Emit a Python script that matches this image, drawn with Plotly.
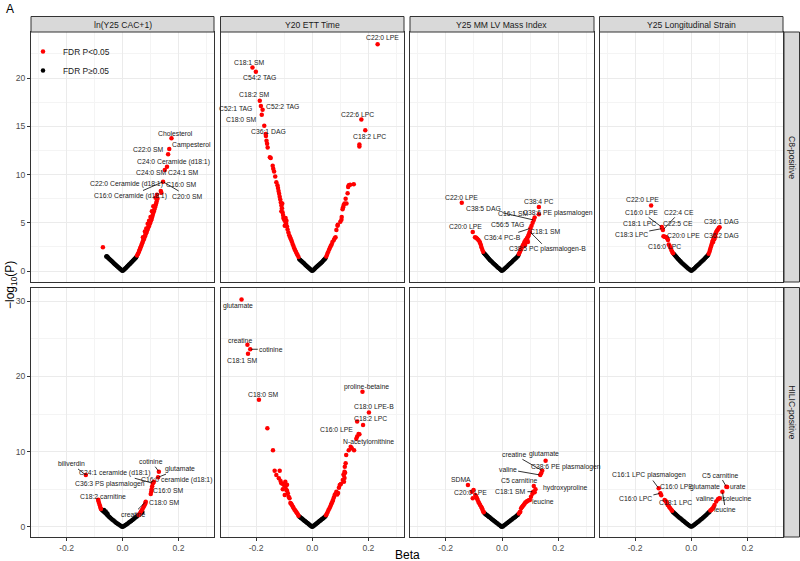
import plotly.graph_objects as go

# ---------------------------------------------------------------- data
col_titles = ["ln(Y25 CAC+1)", "Y20 ETT Time", "Y25 MM LV Mass Index", "Y25 Longitudinal Strain"]
row_titles = ["C8-positive", "HILIC-positive"]
x_ticks = [-0.2, 0.0, 0.2]
x_tick_text = ["-0.2", "0.0", "0.2"]
y_ticks_top = [0, 5, 10, 15, 20]
y_ticks_bottom = [0, 10, 20, 30]

# --- C8-positive / ln(Y25 CAC+1)
c8_cac_ns_beta = [-0.058, -0.056, -0.054, -0.052, -0.050, -0.047, -0.044, -0.041, -0.038, -0.035, -0.032, -0.029, -0.026, -0.023, -0.020, -0.017, -0.014, -0.011, -0.008, -0.005, -0.002,
                  0.001, 0.004, 0.007, 0.010, 0.013, 0.016, 0.019, 0.022, 0.025, 0.028, 0.031, 0.034, 0.037, 0.040, 0.043, 0.046, 0.049]
c8_cac_ns_logp = [1.50, 1.52, 1.45, 1.40, 1.33, 1.24, 1.16, 1.08, 1.00, 0.92, 0.84, 0.76, 0.68, 0.60, 0.52, 0.44, 0.36, 0.28, 0.20, 0.12, 0.05,
                  0.03, 0.10, 0.18, 0.26, 0.34, 0.43, 0.52, 0.61, 0.70, 0.79, 0.88, 0.97, 1.06, 1.15, 1.24, 1.33, 1.42]
c8_cac_sig_beta = [-0.070, 0.052, 0.055, 0.058, 0.060, 0.062, 0.064, 0.066, 0.068, 0.070, 0.072, 0.074, 0.076, 0.078, 0.080, 0.082, 0.084, 0.086,
                   0.088, 0.090, 0.092, 0.094, 0.096, 0.098, 0.100, 0.102, 0.104, 0.106, 0.108, 0.110, 0.112, 0.114, 0.116, 0.118, 0.120, 0.122,
                   0.125, 0.137, 0.139, 0.145, 0.151, 0.159, 0.163, 0.167, 0.175, 0.073, 0.080, 0.085, 0.090, 0.095, 0.100, 0.105, 0.110, 0.118, 0.123]
c8_cac_sig_logp = [2.45, 1.60, 1.75, 1.95, 2.10, 2.25, 2.40, 2.55, 2.70, 2.85, 3.00, 3.15, 3.30, 3.45, 3.60, 3.75, 3.90, 4.05,
                   4.20, 4.35, 4.50, 4.65, 4.80, 4.95, 5.10, 5.25, 5.40, 5.60, 5.80, 6.00, 6.20, 6.40, 6.60, 6.80, 7.00, 7.20,
                   7.50, 8.30, 8.10, 9.25, 10.47, 10.80, 12.09, 12.64, 13.75, 3.50, 4.10, 4.40, 4.90, 5.20, 5.60, 6.20, 6.70, 7.60, 7.90]

# --- C8-positive / Y20 ETT Time
c8_ett_ns_beta = [-0.046, -0.043, -0.040, -0.037, -0.034, -0.031, -0.028, -0.025, -0.022, -0.019, -0.016, -0.013, -0.010, -0.007, -0.004, -0.001,
                  0.002, 0.005, 0.008, 0.011, 0.014, 0.017, 0.020, 0.023, 0.026, 0.029, 0.032, 0.035, 0.038, 0.041, 0.044, 0.047]
c8_ett_ns_logp = [1.22, 1.14, 1.06, 0.98, 0.90, 0.82, 0.74, 0.66, 0.58, 0.50, 0.42, 0.34, 0.26, 0.18, 0.10, 0.03,
                  0.06, 0.14, 0.22, 0.30, 0.38, 0.46, 0.54, 0.62, 0.70, 0.78, 0.86, 0.94, 1.04, 1.13, 1.22, 1.32]
c8_ett_sig_beta = [-0.049, -0.052, -0.055, -0.058, -0.061, -0.064, -0.067, -0.070, -0.073, -0.076, -0.079, -0.082, -0.085, -0.088, -0.090,
                   -0.093, -0.096, -0.100, -0.103, -0.104, -0.106, -0.108, -0.110, -0.112, -0.114, -0.116, -0.118, -0.120, -0.122, -0.124,
                   -0.128, -0.132, -0.136, -0.139, -0.141, -0.148, -0.151, -0.159, -0.161, -0.163, -0.165, -0.166, -0.171, -0.180, -0.177,
                   -0.183, -0.187, -0.201, -0.213, -0.095, -0.092, -0.098, -0.110, -0.107,
                   0.050, 0.053, 0.056, 0.060, 0.063, 0.066, 0.069, 0.072, 0.077, 0.080, 0.083, 0.086, 0.090, 0.091, 0.100, 0.104, 0.105,
                   0.108, 0.110, 0.112, 0.115, 0.119, 0.122, 0.126, 0.128, 0.130, 0.135, 0.148, 0.168, 0.168, 0.175, 0.189, 0.233]
c8_ett_sig_logp = [1.45, 1.62, 1.80, 1.98, 2.16, 2.36, 2.58, 2.80, 3.05, 3.30, 3.50, 3.70, 4.00, 4.30, 4.60,
                   4.90, 5.10, 5.30, 5.50, 5.80, 6.10, 6.50, 6.80, 7.10, 7.40, 7.70, 8.00, 8.30, 8.60, 8.90,
                   9.20, 9.80, 10.30, 10.60, 10.90, 11.70, 11.80, 12.80, 13.20, 13.50, 14.00, 14.20, 15.06, 16.20, 16.70,
                   17.10, 17.65, 20.65, 21.10, 5.50, 5.20, 4.70, 6.20, 7.00,
                   1.50, 1.70, 1.95, 2.20, 2.40, 2.60, 2.75, 3.00, 3.20, 3.40, 3.50, 4.25, 4.70, 4.80, 5.10, 5.30, 5.60,
                   6.40, 6.60, 6.85, 7.00, 7.50, 7.00, 8.05, 8.70, 8.90, 8.95, 9.00, 12.90, 13.10, 15.70, 14.60, 23.50]

# --- C8-positive / Y25 MM LV Mass Index
c8_lv_ns_beta = [-0.064, -0.061, -0.058, -0.055, -0.052, -0.049, -0.046, -0.043, -0.040, -0.036, -0.032, -0.028, -0.024, -0.020, -0.016, -0.012, -0.008, -0.004, -0.001,
                 0.003, 0.007, 0.011, 0.015, 0.019, 0.023, 0.027, 0.031, 0.035, 0.039, 0.043, 0.047, 0.051, 0.055, 0.058]
c8_lv_ns_logp = [1.85, 1.75, 1.65, 1.55, 1.45, 1.35, 1.25, 1.15, 1.06, 0.95, 0.84, 0.73, 0.62, 0.51, 0.40, 0.30, 0.20, 0.10, 0.03,
                 0.08, 0.18, 0.29, 0.39, 0.50, 0.61, 0.72, 0.83, 0.94, 1.05, 1.16, 1.27, 1.38, 1.50, 1.60]
c8_lv_sig_beta = [-0.067, -0.070, -0.073, -0.075, -0.078, -0.080, -0.084, -0.088, -0.092, -0.096, -0.104, -0.143,
                  0.060, 0.063, 0.066, 0.069, 0.072, 0.075, 0.078, 0.080, 0.083, 0.086, 0.088, 0.090, 0.093, 0.095, 0.097, 0.099,
                  0.101, 0.105, 0.109, 0.113, 0.116, 0.131, 0.131, 0.085, 0.090, 0.092, 0.078, 0.082]
c8_lv_sig_logp = [2.00, 2.20, 2.45, 2.70, 2.90, 3.05, 3.20, 3.35, 3.45, 3.50, 4.05, 7.08,
                  1.75, 1.95, 2.15, 2.35, 2.55, 2.70, 2.85, 3.00, 3.15, 3.25, 3.35, 3.45, 3.60, 3.75, 3.90, 4.07,
                  4.42, 4.70, 5.00, 5.28, 5.55, 5.87, 6.63, 3.00, 3.20, 3.00, 2.60, 2.70]

# --- C8-positive / Y25 Longitudinal Strain
c8_ls_ns_beta = [-0.062, -0.059, -0.056, -0.053, -0.050, -0.047, -0.044, -0.041, -0.038, -0.035, -0.031, -0.027, -0.023, -0.019, -0.015, -0.011, -0.007, -0.003,
                 0.001, 0.005, 0.009, 0.013, 0.017, 0.021, 0.025, 0.029, 0.033, 0.037, 0.041, 0.045, 0.049, 0.053, 0.057, 0.060]
c8_ls_ns_logp = [1.75, 1.65, 1.55, 1.45, 1.35, 1.25, 1.16, 1.07, 0.98, 0.89, 0.78, 0.68, 0.57, 0.47, 0.37, 0.27, 0.17, 0.07,
                 0.03, 0.12, 0.22, 0.32, 0.43, 0.54, 0.65, 0.76, 0.87, 0.98, 1.09, 1.20, 1.32, 1.44, 1.56, 1.66]
c8_ls_sig_beta = [-0.065, -0.068, -0.071, -0.074, -0.077, -0.080, -0.083, -0.086, -0.089, -0.092, -0.095, -0.099, -0.101, -0.103, -0.105, -0.143,
                  0.062, 0.065, 0.067, 0.069, 0.071, 0.073, 0.075, 0.077, 0.079, 0.081, 0.083, 0.085, 0.087, 0.089, 0.092, 0.095, 0.098, 0.101,
                  0.078, 0.082, 0.086]
c8_ls_sig_logp = [1.85, 2.00, 2.18, 2.40, 2.60, 2.75, 3.20, 3.40, 3.50, 3.52, 3.55, 3.60, 4.25, 4.40, 4.55, 6.80,
                  1.80, 2.00, 2.20, 2.40, 2.60, 2.80, 3.00, 3.15, 3.30, 3.45, 3.60, 3.75, 3.90, 4.05, 4.20, 4.30, 4.45, 4.53,
                  3.00, 3.30, 3.55]

# --- HILIC-positive / ln(Y25 CAC+1)
hi_cac_ns_beta = [-0.074, -0.071, -0.068, -0.065, -0.062, -0.059, -0.056, -0.053, -0.050, -0.047, -0.044, -0.040, -0.036, -0.032, -0.028, -0.024, -0.020, -0.016, -0.012, -0.008, -0.004, -0.001,
                  -0.066, -0.060, -0.054,
                  0.003, 0.007, 0.011, 0.015, 0.019, 0.023, 0.027, 0.031, 0.035, 0.039, 0.043, 0.047, 0.051, 0.055, 0.059, 0.063, 0.067, 0.071]
hi_cac_ns_logp = [2.30, 2.20, 2.10, 2.00, 1.90, 1.78, 1.66, 1.55, 1.44, 1.33, 1.22, 1.10, 0.97, 0.85, 0.73, 0.61, 0.50, 0.39, 0.29, 0.19, 0.09, 0.02,
                  2.25, 2.05, 1.80,
                  0.07, 0.16, 0.26, 0.36, 0.47, 0.58, 0.69, 0.80, 0.92, 1.04, 1.16, 1.28, 1.40, 1.52, 1.64, 1.76, 1.88, 2.00]
hi_cac_sig_beta = [-0.077, -0.079, -0.081, -0.084, -0.086, -0.087, -0.131,
                   0.058, 0.062, 0.066, 0.070, 0.074, 0.077, 0.080, 0.082, 0.083, 0.101, 0.103, 0.104, 0.106, 0.109, 0.112, 0.127, 0.130]
hi_cac_sig_logp = [2.40, 2.60, 2.90, 3.20, 3.45, 3.60, 6.90,
                   1.60, 1.80, 2.05, 2.30, 2.55, 2.80, 3.00, 3.20, 3.36, 4.38, 4.70, 5.00, 5.40, 5.80, 6.00, 6.60, 7.35]

# --- HILIC-positive / Y20 ETT Time
hi_ett_ns_beta = [-0.046, -0.043, -0.040, -0.037, -0.034, -0.031, -0.028, -0.025, -0.022, -0.019, -0.016, -0.013, -0.010, -0.007, -0.004, -0.001,
                  0.002, 0.005, 0.008, 0.011, 0.014, 0.017, 0.020, 0.023, 0.026, 0.029, 0.032, 0.035, 0.038, 0.041, 0.044, 0.047]
hi_ett_ns_logp = [1.38, 1.29, 1.20, 1.11, 1.02, 0.93, 0.84, 0.75, 0.66, 0.57, 0.48, 0.39, 0.30, 0.21, 0.12, 0.03,
                  0.06, 0.15, 0.24, 0.33, 0.42, 0.51, 0.60, 0.69, 0.78, 0.87, 0.96, 1.05, 1.14, 1.23, 1.32, 1.42]
hi_ett_sig_beta = [-0.049, -0.051, -0.054, -0.057, -0.060, -0.063, -0.066, -0.069, -0.072, -0.075, -0.078, -0.081, -0.084, -0.087, -0.090,
                   -0.092, -0.095, -0.098, -0.100, -0.104, -0.110, -0.113, -0.119, -0.116, -0.128, -0.134, -0.140, -0.160, -0.190,
                   -0.229, -0.221, -0.231, -0.252, -0.090, -0.096, -0.105,
                   0.049, 0.052, 0.055, 0.058, 0.061, 0.064, 0.067, 0.069, 0.072, 0.074, 0.077, 0.080, 0.083, 0.086, 0.089, 0.092,
                   0.095, 0.098, 0.102, 0.109, 0.112, 0.115, 0.117, 0.119, 0.116, 0.121, 0.130, 0.137, 0.141, 0.149, 0.157, 0.160,
                   0.165, 0.168, 0.160, 0.181, 0.202, 0.179, 0.112, 0.115, 0.113]
hi_ett_sig_logp = [1.50, 1.65, 1.82, 2.00, 2.15, 2.30, 2.50, 2.70, 2.90, 3.10, 3.20, 3.80, 4.00, 4.47, 4.80,
                   4.90, 5.35, 4.25, 5.50, 5.70, 5.80, 6.10, 6.47, 7.48, 6.90, 7.48, 10.20, 13.10, 16.90,
                   23.00, 23.60, 24.20, 30.20, 5.60, 6.00, 5.00,
                   1.55, 1.75, 2.00, 2.25, 2.45, 2.70, 2.95, 3.15, 3.40, 3.59, 3.90, 4.25, 4.40, 4.69, 4.30, 4.50,
                   5.20, 5.58, 5.70, 6.24, 6.90, 7.35, 7.20, 8.46, 8.00, 9.56, 10.20, 10.66, 10.45, 10.20, 11.70, 12.00,
                   12.35, 12.30, 14.00, 13.55, 15.20, 17.97, 7.00, 6.50, 6.00]

# --- HILIC-positive / Y25 MM LV Mass Index
hi_lv_ns_beta = [-0.062, -0.059, -0.056, -0.053, -0.050, -0.047, -0.044, -0.040, -0.036, -0.032, -0.028, -0.024, -0.020, -0.016, -0.012, -0.008, -0.004, -0.001,
                 0.003, 0.007, 0.011, 0.015, 0.019, 0.023, 0.027, 0.031, 0.035, 0.039, 0.043, 0.047, 0.051, 0.055, 0.057]
hi_lv_ns_logp = [1.82, 1.73, 1.64, 1.55, 1.46, 1.37, 1.28, 1.16, 1.04, 0.92, 0.80, 0.69, 0.57, 0.45, 0.34, 0.22, 0.11, 0.03,
                 0.08, 0.19, 0.31, 0.42, 0.54, 0.65, 0.77, 0.88, 1.00, 1.11, 1.23, 1.34, 1.46, 1.58, 1.65]
hi_lv_sig_beta = [-0.065, -0.066, -0.069, -0.071, -0.074, -0.078, -0.081, -0.084, -0.087, -0.089, -0.092, -0.095, -0.101, -0.104, -0.107, -0.121,
                  0.060, 0.063, 0.065, 0.068, 0.071, 0.074, 0.077, 0.080, 0.083, 0.087, 0.090, 0.095, 0.099, 0.103, 0.108, 0.111,
                  0.116, 0.119, 0.113, 0.136, 0.139, 0.143, 0.155]
hi_lv_sig_logp = [1.95, 2.03, 2.25, 2.48, 2.70, 2.92, 3.15, 3.36, 3.60, 3.80, 4.05, 4.25, 4.90, 3.80, 4.69, 5.58,
                  1.80, 1.95, 2.03, 2.48, 2.65, 2.80, 2.92, 3.10, 3.25, 3.36, 3.45, 3.55, 3.58, 4.00, 4.40, 4.69,
                  4.60, 5.00, 5.44, 6.90, 7.13, 7.48, 8.80]

# --- HILIC-positive / Y25 Longitudinal Strain
hi_ls_ns_beta = [-0.066, -0.063, -0.060, -0.057, -0.054, -0.050, -0.046, -0.042, -0.038, -0.034, -0.030, -0.026, -0.022, -0.018, -0.014, -0.010, -0.006, -0.002,
                 0.002, 0.006, 0.010, 0.014, 0.018, 0.022, 0.026, 0.030, 0.034, 0.038, 0.042, 0.046, 0.050, 0.054, 0.058, 0.062, 0.065]
hi_ls_ns_logp = [2.03, 1.93, 1.83, 1.73, 1.63, 1.50, 1.37, 1.24, 1.12, 0.99, 0.87, 0.75, 0.63, 0.51, 0.39, 0.28, 0.17, 0.06,
                 0.05, 0.16, 0.27, 0.38, 0.50, 0.62, 0.74, 0.86, 0.98, 1.10, 1.23, 1.36, 1.50, 1.64, 1.78, 1.92, 2.03]
hi_ls_sig_beta = [-0.068, -0.071, -0.075, -0.079, -0.084, -0.087, -0.089, -0.092, -0.095, -0.107, -0.110, -0.116,
                  0.068, 0.071, 0.074, 0.077, 0.080, 0.083, 0.089, 0.095, 0.098, 0.101, 0.111, 0.125, 0.128]
hi_ls_sig_logp = [2.16, 2.30, 2.48, 2.70, 2.92, 3.20, 3.36, 3.50, 3.58, 4.20, 4.47, 5.13,
                  2.20, 2.26, 2.40, 2.48, 2.70, 2.92, 3.40, 3.67, 3.75, 3.80, 4.69, 5.35, 5.30]

# label texts per panel: (name, label x, label y, leader-point x, leader-point y)
c8_cac_labels = [("Cholesterol", 0.19, 14.3, None, None), ("Campesterol", 0.246, 13.06, None, None),
                 ("C22:0 SM", 0.0915, 12.64, None, None), ("C24:0 Ceramide (d18:1)", 0.183, 11.33, None, None),
                 ("C24:0 SM", 0.1035, 10.19, None, None), ("C24:1 SM", 0.219, 10.19, None, None),
                 ("C22:0 Ceramide (d18:1)", 0.014, 8.98, None, None), ("C16:0 SM", 0.211, 8.98, None, None),
                 ("C16:0 Ceramide (d18:1)", 0.0285, 7.77, 0.145, 9.25), ("C20:0 SM", 0.231, 7.77, 0.145, 9.25)]
c8_ett_labels = [("C18:1 SM", -0.224, 21.6, None, None), ("C54:2 TAG", -0.188, 20.07, None, None),
                 ("C18:2 SM", -0.206, 18.3, None, None), ("C52:1 TAG", -0.272, 16.86, None, None),
                 ("C52:2 TAG", -0.107, 17.03, None, None), ("C18:0 SM", -0.252, 15.7, None, None),
                 ("C36:1 DAG", -0.157, 14.5, None, None), ("C22:0 LPE", 0.252, 24.2, None, None),
                 ("C22:6 LPC", 0.161, 16.24, None, None), ("C18:2 LPC", 0.205, 13.9, None, None)]
c8_lv_labels = [("C22:0 LPE", -0.143, 7.63, None, None), ("C38:5 DAG", -0.066, 6.5, 0.113, 5.28),
                ("C16:1 SM", 0.04, 5.98, None, None), ("C38:6 PE plasmalogen", 0.198, 5.98, None, None),
                ("C38:4 PC", 0.131, 7.18, None, None), ("C56:5 TAG", 0.02, 4.84, None, None),
                ("C20:0 LPE", -0.13, 4.6, None, None), ("C36:4 PC-B", 0.0035, 3.49, 0.101, 4.42),
                ("C18:1 SM", 0.155, 4.07, None, None), ("C38:5 PC plasmalogen-B", 0.161, 2.25, 0.099, 4.07)]
c8_ls_labels = [("C22:0 LPE", -0.175, 7.43, None, None), ("C16:0 LPE", -0.176, 6.08, -0.105, 4.55),
                ("C22:4 CE", -0.042, 6.08, -0.101, 4.25), ("C18:1 LPC", -0.185, 4.94, None, None),
                ("C22:5 CE", -0.048, 4.94, None, None), ("C18:3 LPC", -0.214, 3.8, -0.103, 4.40),
                ("C20:0 LPE", -0.0275, 3.73, None, None), ("C16:0 LPC", -0.095, 2.52, None, None),
                ("C36:1 DAG", 0.107, 5.11, None, None), ("C36:2 DAG", 0.107, 3.63, None, None)]
hi_cac_labels = [("biliverdin", -0.182, 8.37, -0.131, 6.90), ("C24:1 ceramide (d18:1)", -0.0275, 7.2, 0.109, 5.80),
                 ("C36:3 PS plasmalogen", -0.043, 5.71, None, None), ("C18:2 carnitine", -0.071, 4.03, None, None),
                 ("cotinine", 0.1035, 8.67, 0.130, 7.35), ("glutamate", 0.205, 7.75, 0.127, 6.60),
                 ("C16:0 ceramide (d18:1)", 0.193, 6.24, None, None), ("C16:0 SM", 0.163, 4.78, None, None),
                 ("C18:0 SM", 0.151, 3.23, None, None), ("creatine", 0.038, 1.69, 0.083, 3.36)]
hi_ett_labels = [("glutamate", -0.265, 29.4, None, None), ("creatine", -0.256, 24.8, None, None),
                 ("cotinine", -0.146, 23.6, -0.221, 23.6), ("C18:1 SM", -0.247, 22.1, None, None),
                 ("C18:0 SM", -0.175, 17.6, None, None), ("proline-betaine", 0.195, 18.6, None, None),
                 ("C18:0 LPE-B", 0.219, 16.0, None, None), ("C18:2 LPC", 0.207, 14.4, None, None),
                 ("C16:0 LPE", 0.086, 12.9, None, None), ("N-acetylornithine", 0.199, 11.25, None, None)]
hi_lv_labels = [("creatine", 0.0415, 9.65, 0.143, 7.48), ("glutamate", 0.151, 9.65, None, None),
                ("C38:6 PE plasmalogen", 0.226, 8.0, None, None), ("valine", 0.02, 7.66, 0.136, 6.90),
                ("C5 carnitine", 0.059, 6.15, None, None), ("hydroxyproline", 0.224, 5.13, None, None),
                ("C18:1 SM", 0.03, 4.69, 0.111, 4.69), ("leucine", 0.146, 3.45, None, None),
                ("SDMA", -0.146, 6.24, None, None), ("C20:0 LPE", -0.111, 4.6, None, None)]
hi_ls_labels = [("C16:1 LPC plasmalogen", -0.151, 6.9, -0.116, 5.13), ("C16:0 LPE", -0.054, 5.36, None, None),
                ("glutamate", 0.0475, 5.36, None, None), ("C16:0 LPC", -0.199, 3.72, -0.110, 4.47),
                ("C18:1 LPC", -0.056, 3.23, None, None), ("C5 carnitine", 0.101, 6.9, 0.125, 5.35),
                ("urate", 0.166, 5.36, None, None), ("valine", 0.0475, 3.8, None, None),
                ("isoleucine", 0.161, 3.8, None, None), ("leucine", 0.122, 2.26, 0.111, 4.69)]

# ---------------------------------------------------------------- layout
W, H = 800, 561
col_px = [(31, 214), (220.5, 404), (410, 594), (599.5, 783)]
row_px = [(32, 282), (287.5, 537)]
x_range = [-0.327, 0.327]
y_ranges = [[-1.14, 24.77], [-1.33, 31.8]]

panels = [
    (c8_cac_sig_beta, c8_cac_sig_logp, c8_cac_ns_beta, c8_cac_ns_logp, c8_cac_labels),
    (c8_ett_sig_beta, c8_ett_sig_logp, c8_ett_ns_beta, c8_ett_ns_logp, c8_ett_labels),
    (c8_lv_sig_beta, c8_lv_sig_logp, c8_lv_ns_beta, c8_lv_ns_logp, c8_lv_labels),
    (c8_ls_sig_beta, c8_ls_sig_logp, c8_ls_ns_beta, c8_ls_ns_logp, c8_ls_labels),
    (hi_cac_sig_beta, hi_cac_sig_logp, hi_cac_ns_beta, hi_cac_ns_logp, hi_cac_labels),
    (hi_ett_sig_beta, hi_ett_sig_logp, hi_ett_ns_beta, hi_ett_ns_logp, hi_ett_labels),
    (hi_lv_sig_beta, hi_lv_sig_logp, hi_lv_ns_beta, hi_lv_ns_logp, hi_lv_labels),
    (hi_ls_sig_beta, hi_ls_sig_logp, hi_ls_ns_beta, hi_ls_ns_logp, hi_ls_labels),
]

FONT = "Liberation Sans, Arial, Helvetica, sans-serif"
RED, BLACK = "#FF0000", "#000000"
BORDER = "#333333"
GRID, GRID_MINOR = "#EBEBEB", "#F4F4F4"
LABEL_SIZE, STRIP_SIZE, TICK_SIZE, LEGEND_SIZE, TITLE_SIZE = 6.8, 8.6, 8.6, 8.4, 12

fig = go.Figure()
annotations = []
shapes = []

for k, (sb, sp, nb, np_, labels) in enumerate(panels):
    r, c = divmod(k, 4)
    sfx = "" if k == 0 else str(k + 1)
    xref, yref = "x" + sfx, "y" + sfx
    fig.add_trace(go.Scatter(x=nb, y=np_, mode="markers", xaxis=xref, yaxis=yref,
                             marker=dict(color=BLACK, size=4.5, line=dict(width=0)),
                             name="FDR P\u22650.05", legendgroup="ns", legendrank=2,
                             showlegend=(k == 0), hoverinfo="skip"))
    fig.add_trace(go.Scatter(x=sb, y=sp, mode="markers", xaxis=xref, yaxis=yref,
                             marker=dict(color=RED, size=4.5, line=dict(width=0)),
                             name="FDR P<0.05", legendgroup="sig", legendrank=1,
                             showlegend=(k == 0), hoverinfo="skip"))
    x0, x1 = col_px[c]
    t, b = row_px[r]
    yt = y_ticks_top if r == 0 else y_ticks_bottom
    ymin = [2.5, 7.5, 12.5, 17.5, 22.5] if r == 0 else [5, 15, 25]
    fig.layout["xaxis" + sfx] = dict(
        domain=[x0 / W, x1 / W], range=x_range, anchor=yref, tickvals=x_ticks, ticktext=x_tick_text,
        showticklabels=(r == 1), ticks="outside" if r == 1 else "", ticklen=3, tickcolor=BORDER,
        tickfont=dict(family=FONT, size=TICK_SIZE, color="#4D4D4D"), automargin=False,
        showgrid=True, gridcolor=GRID, gridwidth=1, zeroline=False,
        minor=dict(tickvals=[-0.3, -0.1, 0.1, 0.3], showgrid=True, gridcolor=GRID_MINOR, gridwidth=0.6, ticks=""),
        showline=True, mirror=True, linecolor=BORDER, linewidth=1, fixedrange=True)
    fig.layout["yaxis" + sfx] = dict(
        domain=[1 - b / H, 1 - t / H], range=y_ranges[r], anchor=xref, tickvals=yt,
        showticklabels=(c == 0), ticks="outside" if c == 0 else "", ticklen=3, tickcolor=BORDER,
        tickfont=dict(family=FONT, size=TICK_SIZE, color="#4D4D4D"), automargin=False,
        showgrid=True, gridcolor=GRID, gridwidth=1, zeroline=False,
        minor=dict(tickvals=ymin, showgrid=True, gridcolor=GRID_MINOR, gridwidth=0.6, ticks=""),
        showline=True, mirror=True, linecolor=BORDER, linewidth=1, fixedrange=True)

    for name, lx, ly, px, py in labels:
        if px is None:
            annotations.append(dict(x=lx, y=ly, xref=xref, yref=yref, text=name, showarrow=False,
                                    xanchor="center", yanchor="middle",
                                    font=dict(family=FONT, size=LABEL_SIZE, color="#1A1A1A")))
        else:
            annotations.append(dict(x=px, y=py, xref=xref, yref=yref, ax=lx, ay=ly, axref=xref, ayref=yref,
                                    text=name, showarrow=True, arrowhead=0, arrowwidth=0.8, arrowcolor="#000000",
                                    standoff=1, font=dict(family=FONT, size=LABEL_SIZE, color="#1A1A1A")))

# strips
for c, title in enumerate(col_titles):
    x0, x1 = col_px[c]
    shapes.append(dict(type="rect", xref="paper", yref="paper", x0=x0 / W, x1=x1 / W,
                       y0=1 - 32 / H, y1=1 - 16.5 / H, fillcolor="#D9D9D9", line=dict(color=BORDER, width=1), layer="above"))
    annotations.append(dict(x=(x0 + x1) / 2 / W, y=1 - 24.5 / H, xref="paper", yref="paper", text=title,
                            xanchor="center", yanchor="middle",
                            showarrow=False, font=dict(family=FONT, size=STRIP_SIZE, color="#1A1A1A")))
for r, title in enumerate(row_titles):
    t, b = row_px[r]
    shapes.append(dict(type="rect", xref="paper", yref="paper", x0=784 / W, x1=799.5 / W,
                       y0=1 - b / H, y1=1 - t / H, fillcolor="#D9D9D9", line=dict(color=BORDER, width=1), layer="above"))
    annotations.append(dict(x=792 / W, y=1 - (t + b) / 2 / H, xref="paper", yref="paper", text=title, textangle=90,
                            xanchor="center", yanchor="middle",
                            showarrow=False, font=dict(family=FONT, size=STRIP_SIZE, color="#1A1A1A")))

# titles
annotations.append(dict(x=407 / W, y=1 - 555 / H, xref="paper", yref="paper", text="Beta", showarrow=False,
                        xanchor="center", yanchor="middle", font=dict(family=FONT, size=TITLE_SIZE, color="#000000")))
annotations.append(dict(x=11 / W, y=1 - 285 / H, xref="paper", yref="paper", text="\u2212log<sub>10</sub>(P)",
                        xanchor="center", yanchor="middle",
                        textangle=-90, showarrow=False, font=dict(family=FONT, size=TITLE_SIZE, color="#000000")))
annotations.append(dict(x=10 / W, y=1 - 9 / H, xref="paper", yref="paper", text="A", showarrow=False,
                        xanchor="center", yanchor="middle", font=dict(family=FONT, size=12, color="#000000")))

fig.update_layout(
    width=W, height=H, margin=dict(l=0, r=0, t=0, b=0, pad=0, autoexpand=False),
    paper_bgcolor="white", plot_bgcolor="white",
    annotations=annotations, shapes=shapes,
    legend=dict(x=23 / W, y=1 - 37 / H, xanchor="left", yanchor="top", bgcolor="rgba(0,0,0,0)",
                font=dict(family=FONT, size=LEGEND_SIZE, color="#1A1A1A"), tracegroupgap=0, itemwidth=30),
    showlegend=True,
)

fig.write_html("out.html", config={"displayModeBar": False},
               post_script="document.body.style.margin='0';document.body.style.overflow='hidden';")
